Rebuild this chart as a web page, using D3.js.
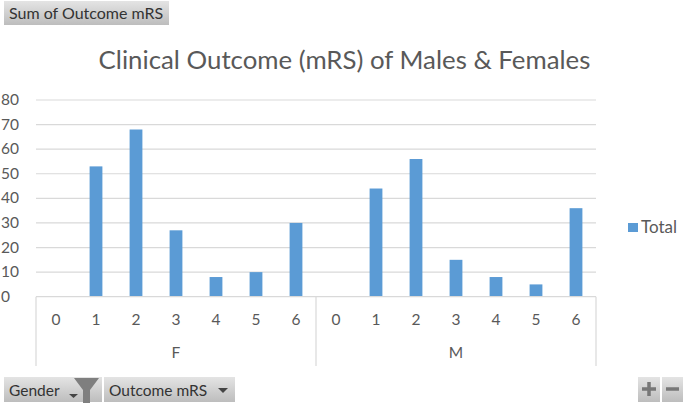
<!DOCTYPE html>
<html>
<head>
<meta charset="utf-8">
<script src="https://d3js.org/d3.v7.min.js"></script>
<style>
  body { margin: 0; background: #fff; }
  text { font-family: Lato, "Open Sans", sans-serif; }
</style>
</head>
<body>
<svg id="canvas" width="685" height="403"></svg>
<script>
let genders = ['F', 'M']
let outcomes = ['0', '1', '2', '3', '4', '5', '6']
let femaleValues = [0, 53, 68, 27, 8, 10, 30]
let maleValues = [0, 44, 56, 15, 8, 5, 36]
let yTicks = [0, 10, 20, 30, 40, 50, 60, 70, 80]

let rows = []
genders.forEach((g, i) => {
    let vals = i === 0 ? femaleValues : maleValues
    outcomes.forEach((o, j) => {
        rows.push({ key: g + o, gender: g, outcome: o, value: vals[j] })
    })
})

let svg = d3.select('#canvas')

let grey = '#595959'
let lineGrey = '#d9d9d9'

let x = d3.scaleBand()
    .domain(rows.map(d => d.key))
    .range([36, 596])
    .paddingInner(0.68)
    .paddingOuter(0.34)

let y = d3.scaleLinear()
    .domain([0, 80])
    .range([296.7, 100])

// gridlines
svg.append('g')
    .selectAll('line')
    .data(yTicks.filter(d => d > 0))
    .enter()
    .append('line')
    .attr('x1', 36)
    .attr('x2', 596)
    .attr('y1', d => y(d))
    .attr('y2', d => y(d))
    .attr('stroke', lineGrey)
    .attr('stroke-width', 1.2)

// y tick labels
svg.append('g')
    .selectAll('text')
    .data(yTicks)
    .enter()
    .append('text')
    .attr('x', 1)
    .attr('y', d => y(d) + 5)
    .attr('font-size', 15.5)
    .attr('fill', grey)
    .text(d => d)

// bars
svg.append('g')
    .selectAll('rect')
    .data(rows)
    .enter()
    .append('rect')
    .attr('x', d => x(d.key))
    .attr('y', d => y(d.value))
    .attr('width', x.bandwidth())
    .attr('height', d => y(0) - y(d.value))
    .attr('fill', '#5b9bd5')

// axis baseline and group separators
let step = x.step()
let groupEdges = [36, 36 + step * 7, 36 + step * 14]
svg.append('line')
    .attr('x1', 36).attr('x2', 596)
    .attr('y1', y(0)).attr('y2', y(0))
    .attr('stroke', lineGrey)
    .attr('stroke-width', 1.2)

svg.append('g')
    .selectAll('line')
    .data(groupEdges)
    .enter()
    .append('line')
    .attr('x1', d => d)
    .attr('x2', d => d)
    .attr('y1', y(0))
    .attr('y2', 366)
    .attr('stroke', lineGrey)
    .attr('stroke-width', 1.2)

// category labels
svg.append('g')
    .selectAll('text')
    .data(rows)
    .enter()
    .append('text')
    .attr('x', d => x(d.key) + x.bandwidth() / 2)
    .attr('y', 325)
    .attr('text-anchor', 'middle')
    .attr('font-size', 15.5)
    .attr('fill', grey)
    .text(d => d.outcome)

svg.append('g')
    .selectAll('text')
    .data(genders)
    .enter()
    .append('text')
    .attr('x', (d, i) => (groupEdges[i] + groupEdges[i + 1]) / 2)
    .attr('y', 358)
    .attr('text-anchor', 'middle')
    .attr('font-size', 15.5)
    .attr('fill', grey)
    .text(d => d)

// title
svg.append('text')
    .attr('x', 344.5)
    .attr('y', 69)
    .attr('text-anchor', 'middle')
    .attr('font-size', 25.8)
    .attr('fill', grey)
    .text('Clinical Outcome (mRS) of Males & Females')

// legend
svg.append('rect')
    .attr('x', 628).attr('y', 223)
    .attr('width', 10).attr('height', 9)
    .attr('fill', '#5b9bd5')
svg.append('text')
    .attr('x', 641).attr('y', 233)
    .attr('font-size', 17)
    .attr('fill', grey)
    .text('Total')

// pivot chart field buttons
let defs = svg.append('defs')
let grad = defs.append('linearGradient')
    .attr('id', 'btn')
    .attr('x1', 0).attr('x2', 0).attr('y1', 0).attr('y2', 1)
grad.append('stop').attr('offset', '0%').attr('stop-color', '#e4e4e4')
grad.append('stop').attr('offset', '100%').attr('stop-color', '#bdbdbd')

let button = (bx, by, w, h) => {
    svg.append('rect')
        .attr('x', bx).attr('y', by)
        .attr('width', w).attr('height', h)
        .attr('fill', 'url(#btn)')
}
let buttonText = (label, tx, ty, size) => {
    svg.append('text')
        .attr('x', tx).attr('y', ty)
        .attr('font-size', size)
        .attr('fill', '#333')
        .text(label)
}

button(4, 1, 165, 24)
buttonText('Sum of Outcome mRS', 9, 19, 16)

button(4, 377, 98, 25)
buttonText('Gender', 9, 396, 15.5)
svg.append('path')
    .attr('d', 'M69 394h9l-4.5 4z')
    .attr('fill', '#444')
svg.append('path')
    .attr('d', 'M74 378h25l-9 12v13h-7v-13z')
    .attr('fill', '#7f7f7f')

button(104, 377, 131, 25)
buttonText('Outcome mRS', 109, 396, 15.5)
svg.append('path')
    .attr('d', 'M218 388h10l-5 5z')
    .attr('fill', '#444')

button(638, 377, 22, 25)
button(662, 377, 21, 25)
svg.append('path')
    .attr('d', 'M642 389h14M649 382v14')
    .attr('stroke', '#777')
    .attr('stroke-width', 3.5)
svg.append('path')
    .attr('d', 'M666 389h13')
    .attr('stroke', '#777')
    .attr('stroke-width', 3.5)
</script>
</body>
</html>
